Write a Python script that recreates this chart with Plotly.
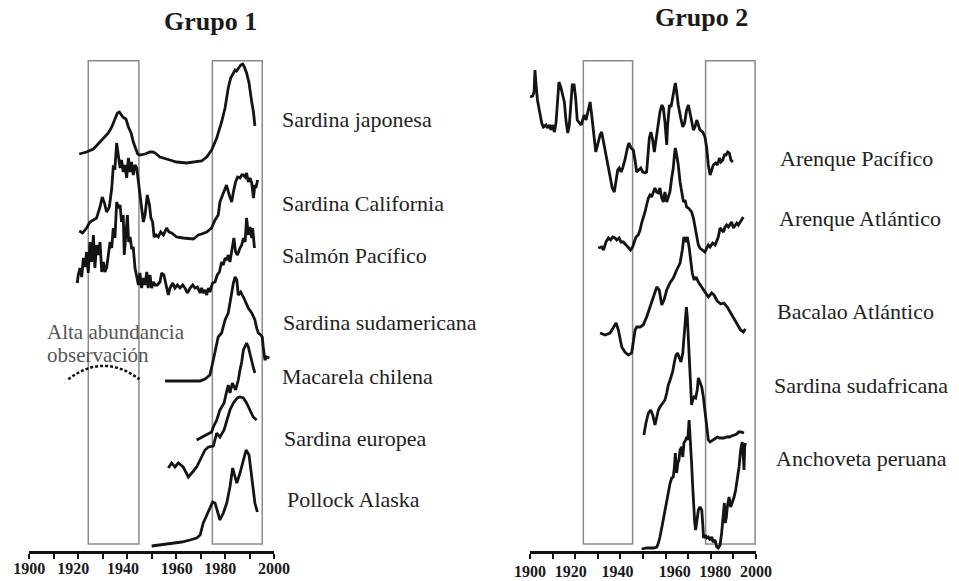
import plotly.graph_objects as go

# ---------------- DATA (relative abundance indices) ----------------
# Grupo 1
japonesa_years = [1920.4, 1923.4, 1926.2, 1928.9, 1930.9, 1932.3, 1933.7, 1935.0, 1936.0, 1936.8,
                  1937.3, 1938.2, 1938.8, 1939.5, 1940.5, 1941.6, 1942.5, 1943.5, 1944.3, 1945.2,
                  1947.3, 1949.3, 1950.4, 1951.4, 1953.4, 1956.1, 1960.2, 1964.3, 1968.4, 1970.4,
                  1972.5, 1974.5, 1976.6, 1978.6, 1980.0, 1981.3, 1982.3, 1983.4, 1984.1, 1984.7,
                  1985.4, 1986.4, 1987.2, 1987.9, 1988.8, 1989.8, 1990.9, 1991.6, 1992.2]
japonesa_values = [12, 14, 17, 24, 29, 33, 39, 46, 53, 54,
                   52, 49, 48, 47, 39, 33, 24, 16, 12, 11,
                   12, 14, 14, 13, 9, 7, 4, 3, 4, 5,
                   9, 16, 28, 44, 58, 78, 88, 94, 96, 95,
                   98, 101, 102, 99, 93, 83, 64, 54, 40]

california_years = [1920.4, 1921.8, 1923.4, 1924.8, 1926.2, 1927.5, 1928.9, 1929.8, 1930.7, 1931.6,
                    1932.7, 1933.7, 1934.3, 1935.0, 1935.7, 1936.4, 1937.1, 1937.7, 1938.4, 1939.1,
                    1939.8, 1940.5, 1941.2, 1941.8, 1942.5, 1943.2, 1943.9, 1944.6, 1945.2, 1945.9,
                    1946.6, 1947.3, 1948.2, 1949.1, 1949.7, 1950.4, 1951.0, 1951.8, 1952.7, 1953.7,
                    1954.8, 1956.1, 1957.1, 1958.2, 1960.2, 1962.9, 1967.0, 1968.1, 1969.1, 1970.4,
                    1972.5, 1974.5, 1975.9, 1977.2, 1977.9, 1979.0, 1979.7, 1980.6, 1981.7, 1982.7,
                    1983.4, 1984.3, 1985.1, 1986.1, 1986.8, 1987.5, 1988.2, 1988.8, 1989.5, 1990.2,
                    1990.9, 1991.6, 1992.2, 1992.6, 1993.3]
california_values = [10, 8, 13, 19, 21, 23, 34, 44, 38, 29,
                     34, 53, 74, 73, 98, 83, 73, 81, 69, 76,
                     63, 83, 69, 79, 66, 76, 73, 59, 46, 33,
                     19, 26, 46, 36, 23, 19, 4, 6, 4, 9,
                     6, 13, 9, 8, 4, 3, 2, 4, 6, 7,
                     9, 13, 21, 26, 39, 46, 51, 56, 46, 39,
                     49, 59, 64, 63, 66, 66, 64, 68, 59, 63,
                     58, 43, 56, 53, 61]

salmon_years = [1919.6, 1920.0, 1920.7, 1921.4, 1922.1, 1922.8, 1923.4, 1924.1, 1924.8, 1925.5,
                1926.2, 1926.8, 1927.5, 1928.2, 1928.9, 1929.6, 1930.3, 1930.9, 1931.6, 1932.3,
                1933.0, 1933.7, 1934.3, 1935.0, 1935.7, 1936.4, 1937.1, 1937.7, 1938.4, 1938.8,
                1939.5, 1940.1, 1940.6, 1941.2, 1941.8, 1942.5, 1943.2, 1943.9, 1944.6, 1945.2,
                1945.9, 1946.6, 1947.3, 1948.0, 1948.6, 1949.3, 1950.0, 1950.7, 1951.4, 1952.3,
                1953.4, 1954.1, 1955.0, 1955.9, 1956.8, 1957.5, 1958.6, 1959.5, 1960.5, 1961.6,
                1962.7, 1963.6, 1964.6, 1965.7, 1966.8, 1967.7, 1968.7, 1969.8, 1970.4, 1971.1,
                1971.8, 1972.5, 1973.2, 1973.8, 1974.9, 1975.9, 1976.8, 1977.7, 1978.6, 1979.3,
                1980.0, 1980.7, 1981.3, 1982.0, 1982.7, 1983.6, 1984.3, 1985.1, 1986.1, 1986.8,
                1987.5, 1988.2, 1988.8, 1989.5, 1990.2, 1990.9, 1991.3, 1992.0]
salmon_values = [18, 26, 33, 24, 43, 34, 49, 28, 59, 39,
                 66, 33, 56, 46, 59, 29, 39, 29, 33, 46,
                 59, 53, 73, 63, 99, 93, 96, 79, 86, 46,
                 73, 86, 59, 64, 53, 53, 33, 23, 16, 28,
                 13, 23, 16, 29, 13, 26, 13, 19, 16, 16,
                 19, 28, 26, 16, 6, 13, 18, 13, 16, 13,
                 16, 13, 8, 13, 16, 13, 14, 8, 13, 8,
                 11, 6, 13, 9, 18, 19, 26, 29, 39, 36,
                 43, 41, 46, 39, 49, 63, 49, 46, 53, 56,
                 63, 59, 83, 66, 74, 63, 73, 53]

sudamericana_years = [1955.5, 1961.6, 1969.8, 1971.8, 1973.8, 1975.2, 1977.2, 1978.6, 1980.0, 1981.3,
                      1982.3, 1983.4, 1984.1, 1984.8, 1985.4, 1986.4, 1987.5, 1988.4, 1989.5, 1990.9,
                      1992.2, 1992.9, 1993.6, 1994.6, 1995.2, 1995.6, 1996.3, 1997.0, 1998.1]
sudamericana_values = [5, 5, 5, 7, 11, 26, 49, 53, 66, 73,
                       89, 103, 109, 106, 91, 94, 89, 84, 78, 73,
                       66, 58, 53, 51, 49, 39, 26, 29, 28]

macarela_years = [1968.4, 1969.8, 1972.5, 1974.5, 1975.2, 1976.6, 1977.9, 1979.6, 1980.6, 1981.3,
                  1982.0, 1983.0, 1984.3, 1985.4, 1986.1, 1986.8, 1987.5, 1988.2, 1988.8, 1989.5,
                  1990.2, 1991.0, 1991.6, 1992.2]
macarela_values = [6, 8, 11, 14, 19, 26, 36, 43, 54, 61,
                   53, 63, 56, 66, 76, 84, 96, 101, 103, 99,
                   91, 84, 78, 73]

europea_years = [1956.8, 1958.2, 1959.5, 1960.9, 1962.9, 1965.0, 1966.4, 1968.4, 1969.8, 1971.8,
                 1973.2, 1975.2, 1976.6, 1977.9, 1979.6, 1980.8, 1982.0, 1983.4, 1985.0, 1986.1,
                 1987.5, 1988.8, 1990.2, 1991.5, 1992.9]
europea_values = [13, 18, 14, 18, 14, 4, 8, 14, 21, 31,
                  34, 35, 48, 44, 51, 61, 71, 78, 83, 84,
                  83, 78, 71, 64, 61]

pollock_years = [1950.0, 1953.4, 1956.2, 1958.8, 1962.3, 1965.7, 1968.4, 1969.8, 1971.1, 1972.2,
                 1973.6, 1974.9, 1975.9, 1976.8, 1977.9, 1979.3, 1980.7, 1982.0, 1983.1, 1984.1,
                 1984.8, 1986.1, 1987.5, 1988.6, 1989.8, 1990.5, 1991.5, 1992.2, 1993.2]
pollock_values = [5, 6, 7, 8, 9, 11, 13, 16, 28, 34,
                  41, 49, 48, 39, 31, 38, 48, 64, 83, 74,
                  68, 78, 91, 101, 96, 81, 61, 48, 39]

# Grupo 2
arenque_pac_years = [1900.0, 1901.2, 1901.8, 1902.2, 1902.7, 1903.3, 1904.1, 1905.2, 1905.9, 1907.1,
                     1907.7, 1908.6, 1909.3, 1909.9, 1910.8, 1911.5, 1912.3, 1912.8, 1913.6, 1914.3,
                     1915.2, 1915.9, 1916.7, 1917.4, 1918.2, 1918.7, 1919.5, 1920.2, 1920.9, 1921.7,
                     1922.6, 1923.3, 1924.0, 1924.8, 1925.7, 1926.6, 1927.3, 1928.0, 1929.1, 1929.9,
                     1931.0, 1931.7, 1932.5, 1933.5, 1934.4, 1935.4, 1936.4, 1937.3, 1938.1, 1938.8,
                     1939.5, 1940.3, 1941.0, 1942.0, 1943.1, 1943.8, 1944.7, 1945.7, 1946.6, 1947.2,
                     1948.1, 1949.0, 1949.9, 1950.9, 1951.6, 1952.1, 1952.8, 1953.5, 1954.3, 1955.0,
                     1955.8, 1956.8, 1957.5, 1958.3, 1959.0, 1959.7, 1960.5, 1960.9, 1961.7, 1962.4,
                     1963.1, 1963.9, 1964.3, 1964.9, 1965.6, 1966.7, 1967.6, 1968.4, 1969.3, 1970.1,
                     1970.8, 1971.5, 1972.3, 1973.0, 1973.8, 1974.5, 1975.2, 1976.4, 1977.4, 1978.2,
                     1978.9, 1979.7, 1980.4, 1981.1, 1982.2, 1983.0, 1983.8, 1984.5, 1985.3, 1986.0,
                     1986.7, 1987.5, 1988.2, 1988.9, 1989.7]
arenque_pac_values = [104, 105, 109, 131, 116, 101, 91, 78, 74, 76,
                      73, 76, 71, 76, 69, 78, 103, 119, 114, 106,
                      99, 81, 68, 76, 103, 116, 116, 103, 81, 78,
                      76, 81, 86, 81, 89, 99, 86, 69, 49, 56,
                      66, 69, 59, 46, 34, 23, 13, 9, 19, 31,
                      33, 29, 33, 41, 53, 58, 53, 51, 39, 29,
                      31, 33, 29, 28, 29, 43, 63, 69, 61, 49,
                      63, 76, 89, 96, 93, 79, 56, 76, 96, 94,
                      103, 114, 118, 109, 96, 83, 74, 78, 91, 96,
                      89, 79, 71, 74, 81, 76, 71, 69, 64, 53,
                      36, 26, 31, 36, 38, 36, 43, 39, 41, 46,
                      46, 49, 48, 41, 39]

arenque_atl_years = [1930.2, 1931.7, 1932.5, 1933.6, 1934.7, 1935.7, 1936.6, 1937.6, 1938.4, 1939.4,
                     1940.3, 1941.3, 1942.5, 1943.5, 1944.5, 1945.4, 1946.2, 1946.9, 1947.9, 1948.7,
                     1949.4, 1950.2, 1950.9, 1951.6, 1952.4, 1953.1, 1953.8, 1954.6, 1955.3, 1956.0,
                     1956.8, 1957.5, 1958.3, 1959.0, 1959.7, 1960.5, 1961.2, 1961.9, 1962.7, 1963.4,
                     1963.9, 1964.3, 1964.9, 1965.6, 1966.4, 1967.1, 1967.9, 1968.6, 1969.3, 1970.1,
                     1970.8, 1971.5, 1972.3, 1973.0, 1973.8, 1974.5, 1975.2, 1976.4, 1977.4, 1978.2,
                     1978.9, 1979.7, 1980.8, 1981.9, 1982.6, 1983.3, 1984.1, 1984.8, 1985.6, 1986.3,
                     1987.0, 1987.8, 1988.5, 1989.2, 1990.0, 1990.7, 1991.5, 1992.2, 1992.9, 1993.7,
                     1994.4]
arenque_atl_values = [13, 14, 11, 19, 23, 21, 24, 23, 21, 23,
                      19, 19, 16, 13, 11, 14, 19, 24, 26, 31,
                      38, 43, 49, 56, 63, 66, 64, 69, 73, 69,
                      68, 73, 63, 59, 69, 59, 63, 69, 83, 93,
                      106, 113, 106, 96, 79, 69, 59, 61, 54, 53,
                      51, 49, 43, 33, 23, 16, 13, 11, 9, 13,
                      16, 14, 18, 16, 21, 24, 33, 31, 29, 34,
                      36, 34, 36, 39, 33, 36, 38, 36, 39, 41,
                      44]

bacalao_years = [1931.0, 1933.2, 1935.4, 1936.9, 1938.1, 1939.1, 1940.6, 1942.0, 1943.5, 1945.0,
                 1945.7, 1946.5, 1947.2, 1948.7, 1950.1, 1951.6, 1953.1, 1954.6, 1956.1, 1957.2,
                 1958.3, 1959.3, 1960.5, 1961.9, 1963.4, 1964.9, 1966.4, 1967.4, 1968.1, 1968.9,
                 1969.6, 1970.4, 1971.1, 1971.8, 1972.6, 1973.5, 1974.5, 1976.0, 1977.4, 1978.9,
                 1980.4, 1981.4, 1982.9, 1984.4, 1985.8, 1987.3, 1988.8, 1990.3, 1991.7, 1993.2,
                 1994.4, 1995.3]
bacalao_values = [28, 26, 28, 34, 38, 31, 14, 9, 6, 8,
                  21, 31, 34, 34, 36, 44, 54, 64, 74, 71,
                  56, 61, 71, 78, 83, 91, 98, 111, 124, 119,
                  124, 114, 101, 88, 81, 84, 79, 74, 69, 64,
                  68, 66, 60, 57, 58, 54, 48, 42, 36, 31,
                  29, 32]

sudafricana_years = [1950.4, 1951.3, 1952.4, 1953.4, 1954.3, 1955.3, 1956.1, 1956.8, 1957.5, 1958.7,
                     1959.7, 1960.5, 1961.2, 1962.0, 1963.1, 1963.9, 1964.6, 1965.3, 1966.1, 1966.8,
                     1967.6, 1968.1, 1968.7, 1969.2, 1969.6, 1970.1, 1970.5, 1971.1, 1971.5, 1972.0,
                     1972.6, 1973.3, 1974.0, 1974.5, 1975.2, 1976.0, 1976.7, 1977.4, 1978.2, 1978.9,
                     1979.7, 1980.8, 1981.9, 1982.9, 1983.8, 1984.8, 1985.8, 1987.0, 1988.2, 1989.2,
                     1990.3, 1991.5, 1992.3, 1993.4, 1994.7]
sudafricana_values = [11, 23, 33, 36, 31, 21, 29, 36, 39, 43,
                      46, 53, 61, 66, 74, 84, 91, 93, 89, 84,
                      93, 106, 129, 139, 129, 109, 83, 59, 41, 46,
                      49, 48, 56, 68, 64, 59, 49, 33, 16, 6,
                      4, 6, 8, 9, 8, 8, 8, 9, 9, 10,
                      11, 12, 14, 14, 13]

anchoveta_years = [1949.4, 1951.6, 1954.6, 1956.1, 1956.8, 1957.5, 1958.7, 1959.7, 1960.8, 1962.0,
                   1962.7, 1963.4, 1963.9, 1964.3, 1964.9, 1965.4, 1965.9, 1966.4, 1967.1, 1967.6,
                   1968.1, 1968.9, 1969.3, 1969.8, 1970.4, 1970.9, 1971.5, 1972.0, 1972.4, 1972.9,
                   1973.3, 1973.8, 1974.5, 1975.2, 1976.0, 1976.4, 1976.8, 1977.6, 1978.2, 1978.9,
                   1979.7, 1980.4, 1981.1, 1981.9, 1982.6, 1983.3, 1984.1, 1984.8, 1985.6, 1986.0,
                   1986.4, 1986.9, 1987.3, 1988.1, 1988.8, 1989.5, 1990.3, 1991.0, 1991.7, 1992.5,
                   1993.2, 1993.9, 1994.4, 1994.7, 1995.0, 1995.3]
anchoveta_values = [2, 3, 3, 4, 8, 14, 28, 41, 54, 68,
                    73, 74, 84, 98, 78, 88, 91, 101, 104, 94,
                    108, 111, 114, 111, 131, 114, 88, 64, 44, 28,
                    21, 31, 41, 44, 41, 28, 13, 16, 13, 14,
                    11, 14, 9, 11, 4, 3, 6, 18, 34, 48,
                    28, 34, 44, 54, 44, 48, 54, 61, 71, 84,
                    101, 109, 94, 81, 104, 108]

group1_names = ["Sardina japonesa", "Sardina California", "Salmón Pacífico", "Sardina sudamericana",
                "Macarela chilena", "Sardina europea", "Pollock Alaska"]
group2_names = ["Arenque Pacífico", "Arenque Atlántico", "Bacalao Atlántico",
                "Sardina sudafricana", "Anchoveta peruana"]

tick_years = [1900, 1910, 1920, 1930, 1940, 1950, 1960, 1970, 1980, 1990, 2000]
tick_labels = ["1900", "1920", "1940", "1960", "1980", "2000"]

# highlighted periods (boxes) per panel, in years
periods_g1 = [(1924.1, 1944.8), (1974.8, 1995.2)]
periods_g2 = [(1923.6, 1945.4), (1977.7, 1999.6)]

# ---------------- LAYOUT SETTINGS (stacking offsets, placement) ----------------
offsets_g1 = [385, 310, 250, 165, 105, 70, 0]
offsets_g2 = [350, 290, 190, 105, 0]
label_pos_g1 = [1900, 1918, 1938.3, 1960.3, 1978, 2000]
label_pos_g2 = [1900, 1918, 1938.7, 1964, 1982, 2000]

W, H = 959, 581
AX_Y = 551            # pixel row of the x axis line
BOX_TOP = 60.7
BOX_BOT = 544

series_g1 = list(zip(group1_names,
                     [japonesa_years, california_years, salmon_years, sudamericana_years,
                      macarela_years, europea_years, pollock_years],
                     [japonesa_values, california_values, salmon_values, sudamericana_values,
                      macarela_values, europea_values, pollock_values], offsets_g1))
series_g2 = list(zip(group2_names,
                     [arenque_pac_years, arenque_atl_years, bacalao_years, sudafricana_years,
                      anchoveta_years],
                     [arenque_pac_values, arenque_atl_values, bacalao_values, sudafricana_values,
                      anchoveta_values], offsets_g2))

FONT = "Liberation Serif, Times New Roman, serif"
LINE = dict(color="#141414", width=2.8)

fig = go.Figure()
for name, yrs, vals, off in series_g1:
    fig.add_trace(go.Scatter(x=yrs, y=[v + off for v in vals], mode="lines", line=LINE,
                             name=name, xaxis="x", yaxis="y", showlegend=False, hoverinfo="skip"))
for name, yrs, vals, off in series_g2:
    fig.add_trace(go.Scatter(x=yrs, y=[v + off for v in vals], mode="lines", line=LINE,
                             name=name, xaxis="x2", yaxis="y2", showlegend=False, hoverinfo="skip"))
# empty traces so that the tick-label axes (x3, x4) are instantiated
fig.add_trace(go.Scatter(x=[], y=[], xaxis="x3", yaxis="y", showlegend=False, hoverinfo="skip"))
fig.add_trace(go.Scatter(x=[], y=[], xaxis="x4", yaxis="y2", showlegend=False, hoverinfo="skip"))

shapes = []
for xr, yr, periods in (("x", "y", periods_g1), ("x2", "y2", periods_g2)):
    for a, b in periods:
        shapes.append(dict(type="rect", xref=xr, yref=yr, x0=a, x1=b,
                           y0=AX_Y - BOX_BOT, y1=AX_Y - BOX_TOP,
                           line=dict(color="#8a8a8a", width=1.5), fillcolor="rgba(0,0,0,0)",
                           layer="below"))
# dashed arc under "Alta abundancia observación"
shapes.append(dict(type="path", xref="x", yref="y",
                   path="M 1915.9,171.7 Q 1930.3,198.5 1945.0,171.7",
                   line=dict(color="#111", width=2.5, dash="3px,2px")))

ann = []
ann.append(dict(text="<b>Grupo 1</b>", x=210.5 / W, y=1 - 22 / H, xref="paper", yref="paper",
                xanchor="center", yanchor="middle",
                showarrow=False, font=dict(family=FONT, size=26, color="#1a1a1a")))
ann.append(dict(text="<b>Grupo 2</b>", x=701 / W, y=1 - 18 / H, xref="paper", yref="paper",
                xanchor="center", yanchor="middle",
                showarrow=False, font=dict(family=FONT, size=26, color="#1a1a1a")))

lab_g1 = [(280, 120), (280, 203), (280, 255), (280.7, 322), (280, 376.5), (281.7, 438), (285, 499)]
lab_g2 = [(778, 159), (776.5, 219), (775, 311), (771.5, 385), (773.5, 458)]
for name, (px, py) in zip(group1_names + group2_names, lab_g1 + lab_g2):
    ann.append(dict(text=name, x=px / W, y=1 - py / H, xref="paper", yref="paper",
                    xanchor="left", yanchor="middle", showarrow=False,
                    font=dict(family=FONT, size=22, color="#222")))
for txt, py in (("Alta abundancia", 332), ("observación", 355)):
    ann.append(dict(text=txt, x=45 / W, y=1 - py / H, xref="paper", yref="paper",
                    xanchor="left", yanchor="middle", showarrow=False,
                    font=dict(family=FONT, size=21, color="#555")))

ydom = [(H - AX_Y) / H, 1]
base_x = dict(range=[1900, 2000], showline=True, linecolor="#111", linewidth=2.5,
              ticks="outside", ticklen=5, tickwidth=2, tickcolor="#111",
              tickmode="array", tickvals=tick_years, showticklabels=False,
              showgrid=False, zeroline=False, fixedrange=True, automargin=False)
lab_x = dict(range=[1900, 2000], showline=False, ticks="", showgrid=False, zeroline=False,
             tickmode="array", ticktext=[f"<b>{t}</b>" for t in tick_labels],
             showticklabels=True, side="bottom", automargin=False,
             fixedrange=True, tickfont=dict(family=FONT, size=16, color="#1a1a1a"))
base_y = dict(range=[0, AX_Y], domain=ydom, visible=False, showgrid=False, zeroline=False,
              fixedrange=True, automargin=False)

fig.update_layout(
    width=W, height=H, autosize=False,
    margin=dict(l=0, r=0, t=0, b=0, autoexpand=False),
    paper_bgcolor="white", plot_bgcolor="white",
    xaxis=dict(base_x, domain=[29.3 / W, 274 / W], anchor="y"),
    yaxis=dict(base_y, anchor="x"),
    xaxis2=dict(base_x, domain=[530 / W, 756 / W], anchor="y2"),
    yaxis2=dict(base_y, anchor="x2"),
    xaxis3=dict(lab_x, overlaying="x", anchor="y", tickvals=label_pos_g1, ticklabelstandoff=6),
    xaxis4=dict(lab_x, overlaying="x2", anchor="y2", tickvals=label_pos_g2, ticklabelstandoff=9),
    shapes=shapes, annotations=ann, showlegend=False,
)

fig.write_html("out.html", config={"displayModeBar": False},
               post_script="document.body.style.margin='0';document.body.style.overflow='hidden';")
